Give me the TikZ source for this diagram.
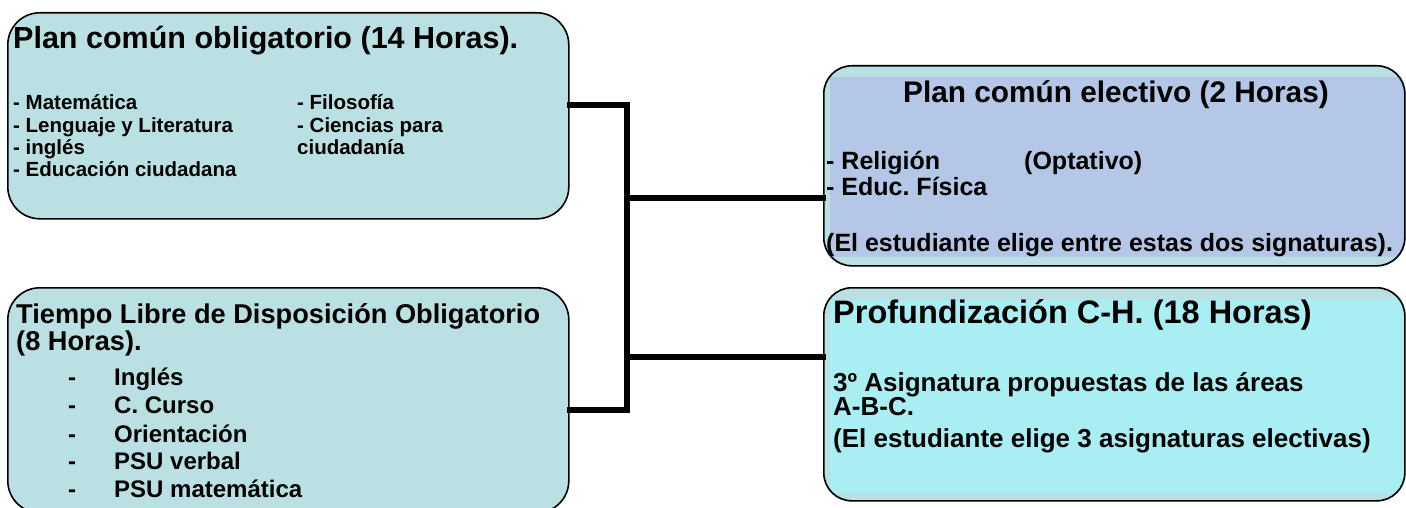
\documentclass[tikz,border=0pt]{standalone}
\usepackage{fontspec}
\setmainfont{Liberation Sans}
\usetikzlibrary{backgrounds}
\definecolor{boxteal}{HTML}{BBE0E3}
\definecolor{boxlav}{HTML}{B4C7E7}
\definecolor{boxcyan}{HTML}{A9EEF2}
\tikzset{
  box/.style={draw=black, line width=1.6pt, inner sep=0pt, anchor=north west},
  lbox/.style={box, rounded corners=32pt, fill=boxteal},
  rbox/.style={box, rounded corners=28pt},
  txt/.style={anchor=base west, inner sep=0pt, font=\bfseries},
  fA/.style={font=\bfseries\fontsize{30.5}{34}\selectfont},
  fB/.style={font=\bfseries\fontsize{20.5}{22}\selectfont},
  fC/.style={font=\bfseries\fontsize{27.2}{30}\selectfont},
  fD/.style={font=\bfseries\fontsize{24}{26}\selectfont},
  fE/.style={font=\bfseries\fontsize{25}{27}\selectfont},
  fF/.style={font=\bfseries\fontsize{29.8}{33}\selectfont},
  fG/.style={font=\bfseries\fontsize{32.5}{36}\selectfont},
  fH/.style={font=\bfseries\fontsize{26}{28}\selectfont},
  conn/.style={line width=5.5pt, line cap=rect},
}
\frenchspacing
\begin{document}
\begin{tikzpicture}[x=1pt,y=-1pt]
\useasboundingbox (0,0) rectangle (1406,508);
\clip (0,0) rectangle (1406,508);
% boxes
\node[lbox, minimum width=561pt, minimum height=206pt] (b1) at (7,12) {};
\node[lbox, minimum width=561pt, minimum height=225pt] (b2) at (7,287) {};
\node[rbox, minimum width=581pt, minimum height=200pt] (b3) at (823,65) {};
\node[rbox, minimum width=581pt, minimum height=213pt] (b4) at (823,287) {};
\begin{scope}[on background layer]
  \fill[boxteal, rounded corners=28pt] (b3.north west) rectangle (b3.south east);
  \fill[boxteal, rounded corners=28pt] (b4.north west) rectangle (b4.south east);
  \begin{scope}
    \clip[rounded corners=28pt] (b3.north west) rectangle (b3.south east);
    \fill[boxlav] (830,77) rectangle (1406,257);
  \end{scope}
  \begin{scope}
    \clip[rounded corners=28pt] (b4.north west) rectangle (b4.south east);
    \fill[boxcyan] (830,300) rectangle (1406,493);
  \end{scope}
\end{scope}
% box 1 text
\node[txt, fA] (t1) at (13,49) {Plan común obligatorio (14 Horas).};
\node[txt, fB] (t1a) at (13,110) {- Matemática};
\node[txt, fB] (t1b) at (13,133) {- Lenguaje y Literatura};
\node[txt, fB] (t1c) at (13,155) {- inglés};
\node[txt, fB] (t1d) at (13,177) {- Educación ciudadana};
\node[txt, fB] (t1e) at (297,110) {- Filosofía};
\node[txt, fB] (t1f) at (297,133) {- Ciencias para};
\node[txt, fB] (t1g) at (297,155) {ciudadanía};
% box 2 text
\node[txt, fC] (t2) at (16,323) {Tiempo Libre de Disposición Obligatorio};
\node[txt, fC] (t2x) at (16,350) {(8 Horas).};
\foreach \y/\s [count=\i] in {385/Inglés, 413/C. Curso, 442/Orientación, 469/PSU verbal, 497/PSU matemática}{
  \node[txt, fD] (d\i) at (68,\y) {-};
  \node[txt, fD] (s\i) at (114,\y) {\s};
}
% box 3 text
\node[txt, fF, anchor=base] (t3) at (1116,103) {Plan común electivo (2 Horas)};
\node[txt, fE] (t3a) at (826,170) {- Religión};
\node[txt, fE] (t3b) at (1024,170) {(Optativo)};
\node[txt, fE] (t3c) at (826,195) {- Educ. Física};
\node[txt, fE] (t3d) at (826,251) {(El estudiante elige entre estas dos signaturas).};
% box 4 text
\node[txt, fG] (t4) at (833,323) {Profundización C-H. (18 Horas)};
\node[txt, fH] (t4a) at (833,391) {3º Asignatura propuestas de las áreas};
\node[txt, fH] (t4b) at (833,415) {A-B-C.};
\node[txt, fH] (t4c) at (833,447) {(El estudiante elige 3 asignaturas electivas)};
% connectors
\coordinate (jt) at (627,105);
\coordinate (jb) at (627,410);
\coordinate (jm) at (627,198);
\coordinate (jn) at (627,357);
\draw[conn] (b1.east |- jt) -- (jt) -- (jb) -- (b2.east |- jb);
\draw[conn] (jm) -- (b3.west |- jm);
\draw[conn] (jn) -- (b4.west |- jn);
\end{tikzpicture}
\end{document}
